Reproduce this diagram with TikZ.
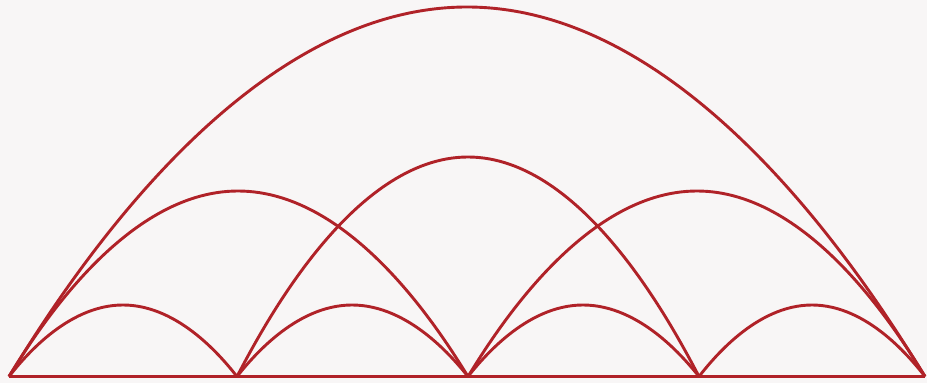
\documentclass[tikz,border=0pt]{standalone}
\definecolor{arcred}{RGB}{176,34,40}
\definecolor{bg}{RGB}{248,246,246}
\begin{document}
\begin{tikzpicture}[x=1pt,y=-1pt,arc/.style={draw=arcred,line width=2.9pt,line join=round}]
\fill[bg] (0,0) rectangle (927,383);
\useasboundingbox (0,0) rectangle (927,383);
\coordinate (p0) at (9,376.5);
\coordinate (p1) at (237,376.5);
\coordinate (p2) at (468,376.5);
\coordinate (p3) at (699,376.5);
\coordinate (p4) at (925,376.5);
\draw[arc] (p0) -- (p4);
\draw[arc] (p0) parabola bend (467,7) (p4);
\draw[arc] (p0) parabola bend (238,191) (p2);
\draw[arc] (p1) parabola bend (468,157) (p3);
\draw[arc] (p2) parabola bend (697,191) (p4);
\draw[arc] (p0) parabola bend (123,305) (p1);
\draw[arc] (p1) parabola bend (352,305) (p2);
\draw[arc] (p2) parabola bend (583,305) (p3);
\draw[arc] (p3) parabola bend (812,305) (p4);
\end{tikzpicture}
\end{document}
